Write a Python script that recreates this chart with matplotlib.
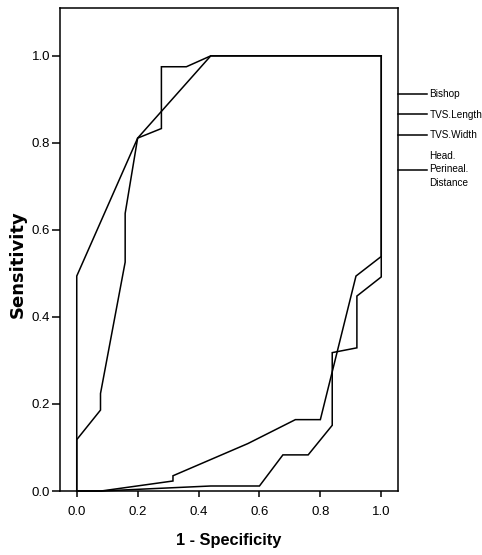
import matplotlib
matplotlib.use("Agg")
import matplotlib.pyplot as plt

# ROC curve data (1 - Specificity, Sensitivity)
bishop_x = [0.0, 0.0, 0.2, 0.44, 1.0]
bishop_y = [0.0, 0.494, 0.811, 1.0, 1.0]

tvs_length_x = [0.0, 0.0, 0.078, 0.078, 0.159, 0.159, 0.2, 0.278, 0.278, 0.36, 0.44, 1.0]
tvs_length_y = [0.0, 0.118, 0.186, 0.224, 0.526, 0.638, 0.811, 0.833, 0.975, 0.975, 1.0, 1.0]

tvs_width_x = [0.0, 0.08, 0.316, 0.316, 0.562, 0.718, 0.8, 0.917, 1.0, 1.0]
tvs_width_y = [0.0, 0.0, 0.023, 0.035, 0.109, 0.164, 0.164, 0.494, 0.539, 1.0]

hpd_x = [0.0, 0.08, 0.44, 0.6, 0.677, 0.76, 0.839, 0.839, 0.92, 0.92, 1.0, 1.0]
hpd_y = [0.0, 0.0, 0.0115, 0.0115, 0.083, 0.083, 0.151, 0.318, 0.329, 0.448, 0.492, 1.0]

series_labels = ["Bishop", "TVS.Length", "TVS.Width", "Head.\nPerineal.\nDistance"]
tick_values = [0.0, 0.2, 0.4, 0.6, 0.8, 1.0]
tick_labels = ["0.0", "0.2", "0.4", "0.6", "0.8", "1.0"]

arial = ["Liberation Sans", "DejaVu Sans"]

fig = plt.figure(figsize=(4.82, 5.55), dpi=100)
ax = fig.add_axes([60/482, 1 - 491/555, 338/482, 483/555])

lw = 1.1
for xs, ys, lab in zip([bishop_x, tvs_length_x, tvs_width_x, hpd_x],
                       [bishop_y, tvs_length_y, tvs_width_y, hpd_y],
                       series_labels):
    ax.plot(xs, ys, color="black", lw=lw, label=lab, solid_joinstyle="miter", clip_on=False)

ax.set_xlim(-0.055, 1.055)
ax.set_ylim(0.0, 1.11)
ax.set_xticks(tick_values)
ax.set_xticklabels(tick_labels, fontfamily=arial, fontsize=9.5)
ax.set_yticks(tick_values)
ax.set_yticklabels(tick_labels, fontfamily=arial, fontsize=9.5)
ax.tick_params(axis="x", length=4.5, width=1.1, pad=6)
ax.tick_params(axis="y", length=5.5, width=1.1, pad=1.5)
for s in ax.spines.values():
    s.set_linewidth(1.1)

ax.set_xlabel("1 - Specificity", fontfamily=arial, fontweight="bold", fontsize=11.8, va="center")
ax.xaxis.set_label_coords(0.5, -0.1035)
ax.set_ylabel("Sensitivity", fontfamily="DejaVu Sans", fontweight="bold", fontsize=13, va="center")
ax.yaxis.set_label_coords(-0.124, 0.47)

leg = ax.legend(loc="upper left", bbox_to_anchor=(1.0, 0.832), borderaxespad=0, borderpad=0,
                frameon=False, handlelength=2.9, handletextpad=0.25, labelspacing=1.05,
                prop={"family": arial, "size": 7.2})
for t in leg.get_texts():
    t.set_linespacing(1.45)

fig.savefig("out.png", dpi=100)
